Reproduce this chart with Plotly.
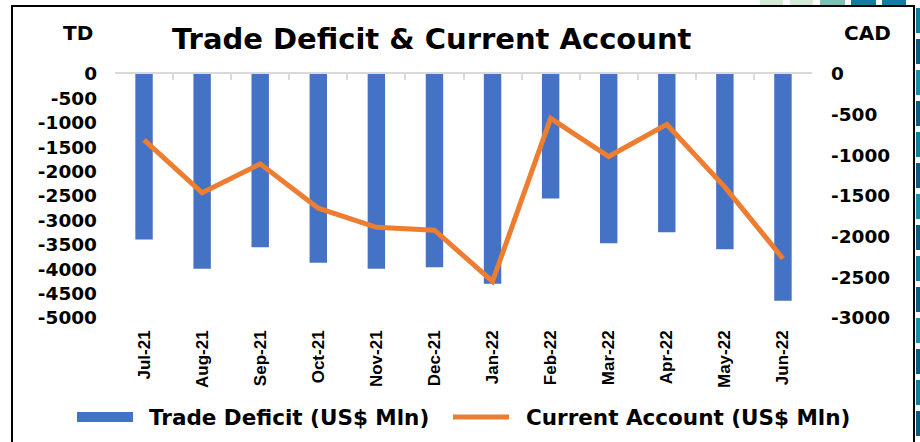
import plotly.graph_objects as go

# ---------------- data ----------------
months = ["Jul-21", "Aug-21", "Sep-21", "Oct-21", "Nov-21", "Dec-21",
          "Jan-22", "Feb-22", "Mar-22", "Apr-22", "May-22", "Jun-22"]
trade_deficit = [-3390, -3990, -3550, -3870, -3990, -3960,
                 -4300, -2550, -3470, -3245, -3590, -4645]
current_account = [-810, -1460, -1105, -1650, -1885, -1920,
                   -2550, -545, -1015, -620, -1390, -2270]
left_ticks = list(range(0, -5001, -500))
right_ticks = list(range(0, -3001, -500))

# ---------------- layout geometry ----------------
W, H = 920, 442
L, R, T, B = 115, 108, 74, 124
PW, PH = W - L - R, H - T - B


def px(x):
    return (x - L) / PW


def py(y):
    return 1 - (y - T) / PH


BLUE = "#4472C4"
ORANGE = "#ED7D31"
FONT = "DejaVu Sans"

fig = go.Figure()
fig.add_trace(go.Bar(x=months, y=trade_deficit, name="Trade Deficit (US$ Mln)",
                     marker=dict(color=BLUE, line=dict(width=0)), width=0.3,
                     xaxis="x", yaxis="y", showlegend=False))
fig.add_trace(go.Scatter(x=months, y=current_account, name="Current Account (US$ Mln)",
                         mode="lines", line=dict(color=ORANGE, width=5),
                         xaxis="x2", yaxis="y2", showlegend=False))

tickfont = dict(family=FONT, size=18.5, color="black", weight="bold")

fig.update_layout(
    template="none",
    width=W, height=H,
    margin=dict(l=L, r=R, t=T, b=B, pad=0, autoexpand=False),
    paper_bgcolor="white", plot_bgcolor="white",
    showlegend=False,
    xaxis=dict(type="category", range=[-0.5, 11.5], showline=False, showgrid=False,
               zeroline=False, ticks="", tickangle=-90, automargin=False,
               tickfont=dict(family="Liberation Sans", size=17, color="black", weight="bold"),
               ticklabelstandoff=8, anchor="y"),
    xaxis2=dict(type="category", range=[-0.5, 11.5], overlaying="x", side="top",
                anchor="y2", showticklabels=False, showgrid=False, zeroline=False,
                automargin=False,
                showline=True, linecolor="#D9D9D9", linewidth=1.5,
                ticks="inside", tickson="boundaries", ticklen=6, tickcolor="#D9D9D9",
                tickwidth=1.5),
    yaxis=dict(range=[-5000, 0], tickvals=left_ticks, ticktext=[str(v) for v in left_ticks],
               showgrid=False, zeroline=False, showline=False, ticks="", automargin=False,
               tickfont=tickfont, ticklabelstandoff=17),
    yaxis2=dict(range=[-3000, 0], tickvals=right_ticks, ticktext=[str(v) for v in right_ticks],
                overlaying="y", side="right", anchor="x2", showgrid=False, zeroline=False,
                automargin=False,
                showline=False, ticks="", tickfont=tickfont, ticklabelstandoff=18),
)

annotations = [
    dict(text="Trade Deficit & Current Account", x=px(432), y=py(39),
         font=dict(family=FONT, size=29, color="black", weight="bold")),
    dict(text="TD", x=px(78), y=py(33), font=dict(family=FONT, size=20, color="black", weight="bold")),
    dict(text="CAD", x=px(867), y=py(33), font=dict(family=FONT, size=20, color="black", weight="bold")),
    dict(text="Trade Deficit (US$ Mln)", x=px(147), y=py(417), xanchor="left",
         font=dict(family=FONT, size=21.5, color="black", weight="bold")),
    dict(text="Current Account (US$ Mln)", x=px(524), y=py(417), xanchor="left",
         font=dict(family=FONT, size=21.5, color="black", weight="bold")),
]
for a in annotations:
    a.setdefault("xanchor", "center")
    a.update(xref="paper", yref="paper", yanchor="middle", showarrow=False)
fig.update_layout(annotations=annotations)

shapes = [
    # legend markers
    dict(type="rect", x0=px(77), x1=px(133), y0=py(422), y1=py(412),
         fillcolor=BLUE, line=dict(width=0)),
    dict(type="line", x0=px(453), x1=px(509), y0=py(417), y1=py(417),
         line=dict(color=ORANGE, width=5)),
    # chart frame (left, top, right)
    dict(type="path", path=f"M {px(12)} {py(446)} L {px(12)} {py(6)} L {px(914)} {py(6)} L {px(914)} {py(446)}",
         line=dict(color="black", width=2)),
]
# decorative slide strips
top_blocks = [(760, 783, "#D5EBD9"), (790, 813, "#D5EBD9"), (820, 845, "#7FBFB5"),
              (851, 876, "#137E9C"), (882, 906, "#137E9C")]
for x0, x1, c in top_blocks:
    shapes.append(dict(type="rect", x0=px(x0), x1=px(x1), y0=py(5), y1=py(0),
                       fillcolor=c, line=dict(width=0)))
side_colors = ["#137E9C", "#0F5A7F", "#1A8EA8", "#0F5A7F"]
y = 8
i = 0
while y < H:
    shapes.append(dict(type="rect", x0=px(916), x1=px(921), y0=py(min(y + 25, H + 2)), y1=py(y),
                       fillcolor=side_colors[i % 4], line=dict(width=0)))
    y += 31
    i += 1
for s in shapes:
    s.update(xref="paper", yref="paper", layer="above")
fig.update_layout(shapes=shapes)

fig.write_html("out.html",
               config={"displayModeBar": False, "displaylogo": False},
               post_script="document.body.style.margin='0';document.body.style.overflow='hidden';")
